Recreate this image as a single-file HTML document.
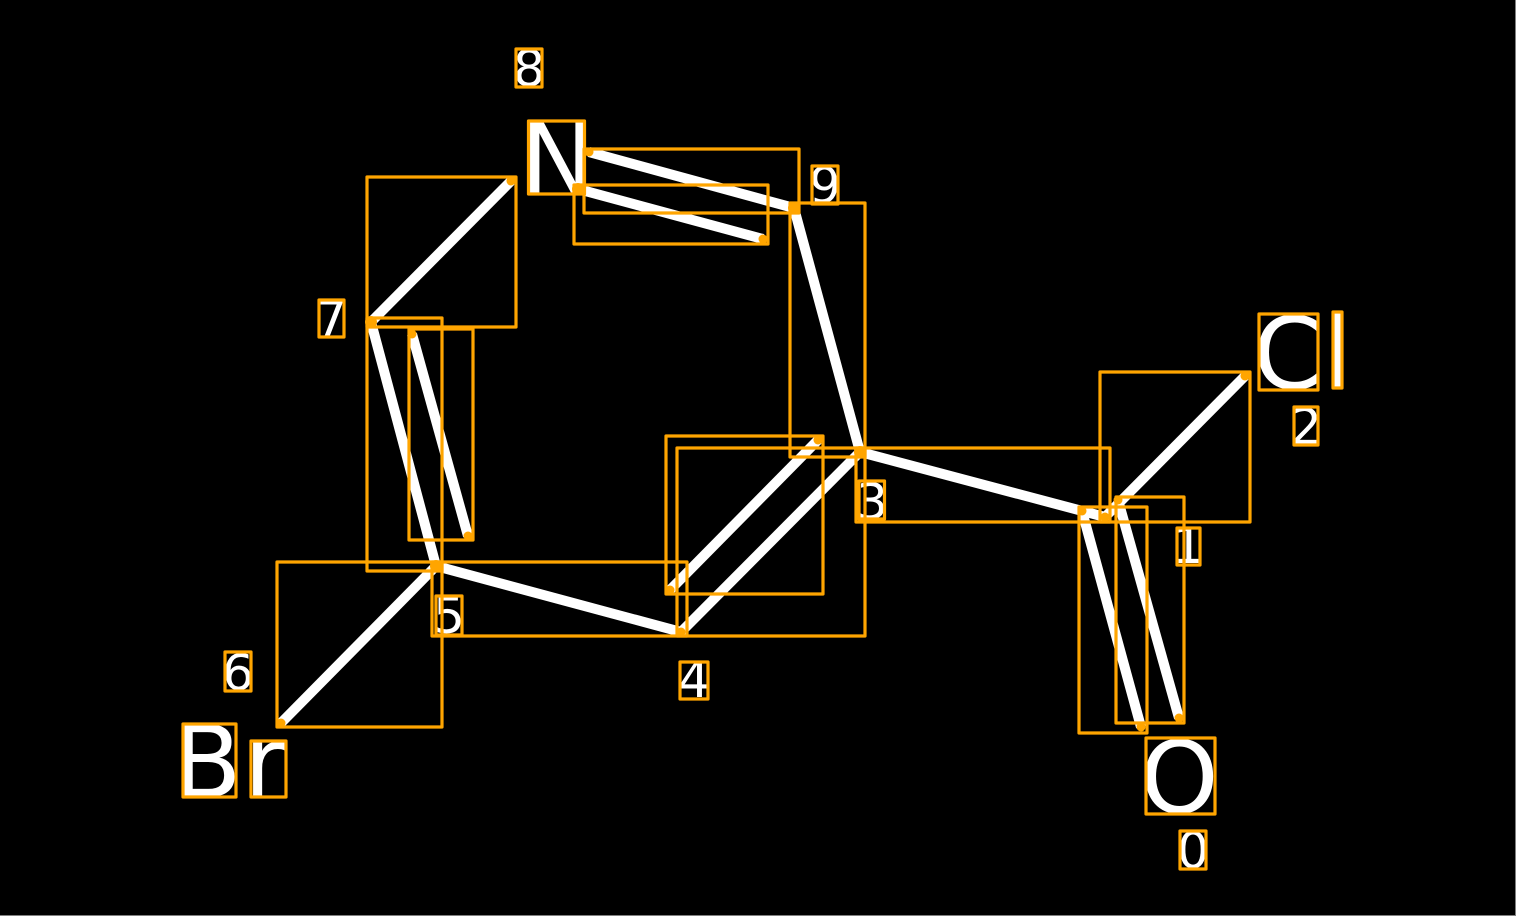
<!DOCTYPE html>
<html><head><meta charset="utf-8"><style>
html,body{margin:0;padding:0;background:#000;width:1516px;height:916px;overflow:hidden}
svg{display:block}
text{font-family:"DejaVu Sans",sans-serif;fill:#fff}
.b{font-size:100px}.d{font-size:50px;text-anchor:middle}
</style></head><body>
<svg width="1516" height="916" viewBox="0 0 1516 916" xmlns="http://www.w3.org/2000/svg">
<rect width="1516" height="916" fill="#000"/>
<rect x="1515" y="0" width="1" height="916" fill="#808080"/>
<rect x="0" y="915" width="1516" height="1" fill="#808080"/>
<g stroke="#fff" stroke-width="10" fill="none">
<line x1="436" y1="566" x2="281" y2="723"/>
<line x1="371" y1="322" x2="436" y2="566"/>
<line x1="412" y1="334" x2="468" y2="536"/>
<line x1="371" y1="322" x2="511" y2="181"/>
<line x1="578" y1="189" x2="763" y2="239"/>
<line x1="589" y1="152" x2="794" y2="208"/>
<line x1="794" y1="208" x2="860" y2="452"/>
<line x1="860" y1="452" x2="681" y2="632"/>
<line x1="818" y1="440" x2="670" y2="590"/>
<line x1="436" y1="566" x2="681" y2="632"/>
<line x1="860" y1="452" x2="1105" y2="517"/>
<line x1="1105" y1="517" x2="1245" y2="376"/>
<line x1="1082" y1="511" x2="1141" y2="727"/>
<line x1="1118" y1="500" x2="1179" y2="718"/>
</g>
<text class="b" x="520" y="194">N</text>
<text class="b" x="173" y="797">B</text>
<text class="b" x="244" y="797">r</text>
<text class="b" x="1253" y="388.500">C</text>
<text class="b" x="1324" y="388">l</text>
<text class="b" x="1140" y="812.500">O</text>
<text class="d" x="529" y="86">8</text>
<text class="d" x="825" y="203">9</text>
<text class="d" x="331" y="337">7</text>
<text class="d" x="1306" y="444">2</text>
<text class="d" x="1188" y="563">1</text>
<text class="d" x="872" y="519">3</text>
<text class="d" x="449" y="633">5</text>
<text class="d" x="694" y="697">4</text>
<text class="d" x="238" y="690">6</text>
<text class="d" x="1193" y="868">0</text>
<g stroke="#ffa500" stroke-width="3.200" fill="none" stroke-linejoin="round">
<rect x="277" y="562" width="165" height="165"/>
<rect x="367" y="318" width="75" height="253"/>
<rect x="409" y="329" width="64" height="211"/>
<rect x="367" y="177" width="149" height="150"/>
<rect x="574" y="185" width="194" height="59"/>
<rect x="584" y="149" width="215" height="64"/>
<rect x="790" y="203" width="75" height="254"/>
<rect x="677" y="448" width="188" height="188"/>
<rect x="666" y="436" width="157" height="158"/>
<rect x="432" y="562" width="255" height="74"/>
<rect x="856" y="448" width="254" height="74"/>
<rect x="1100" y="372" width="150" height="150"/>
<rect x="1079" y="507" width="68" height="226"/>
<rect x="1116" y="497" width="68" height="226"/>
<rect x="528.500" y="121" width="56" height="73"/>
<rect x="183" y="724" width="53" height="73"/>
<rect x="251" y="741" width="35" height="56"/>
<rect x="1259" y="314" width="59" height="76"/>
<rect x="1333" y="312" width="9" height="76"/>
<rect x="1146" y="738" width="69" height="76"/>
<rect x="516" y="49" width="26" height="38"/>
<rect x="812" y="166" width="26" height="38"/>
<rect x="319" y="300" width="25" height="37"/>
<rect x="1294" y="407" width="24" height="38"/>
<rect x="1177" y="528" width="23" height="37"/>
<rect x="859" y="481" width="25.500" height="38"/>
<rect x="436" y="596" width="26" height="39"/>
<rect x="680" y="662" width="28" height="37"/>
<rect x="225" y="652" width="26" height="39"/>
<rect x="1180" y="831" width="26" height="38"/>
</g>
<g fill="#ffa500">
<circle cx="436" cy="566" r="6"/><circle cx="281" cy="723" r="4.500"/>
<circle cx="371" cy="322" r="6"/><circle cx="412" cy="334" r="4.500"/>
<circle cx="468" cy="536" r="4.500"/><circle cx="511" cy="181" r="4.500"/>
<circle cx="578" cy="189" r="6"/><circle cx="763" cy="239" r="4.500"/>
<circle cx="589" cy="152" r="4.500"/><circle cx="794" cy="208" r="6"/>
<circle cx="860" cy="452" r="6"/><circle cx="681" cy="632" r="4.500"/>
<circle cx="818" cy="440" r="4.500"/><circle cx="670" cy="590" r="4.500"/>
<circle cx="1105" cy="517" r="4.500"/><circle cx="1245" cy="376" r="4.500"/>
<circle cx="1082" cy="511" r="4.500"/><circle cx="1141" cy="727" r="4.500"/>
<circle cx="1118" cy="500" r="4.500"/><circle cx="1179" cy="718" r="4.500"/>
</g>
</svg>
</body></html>
